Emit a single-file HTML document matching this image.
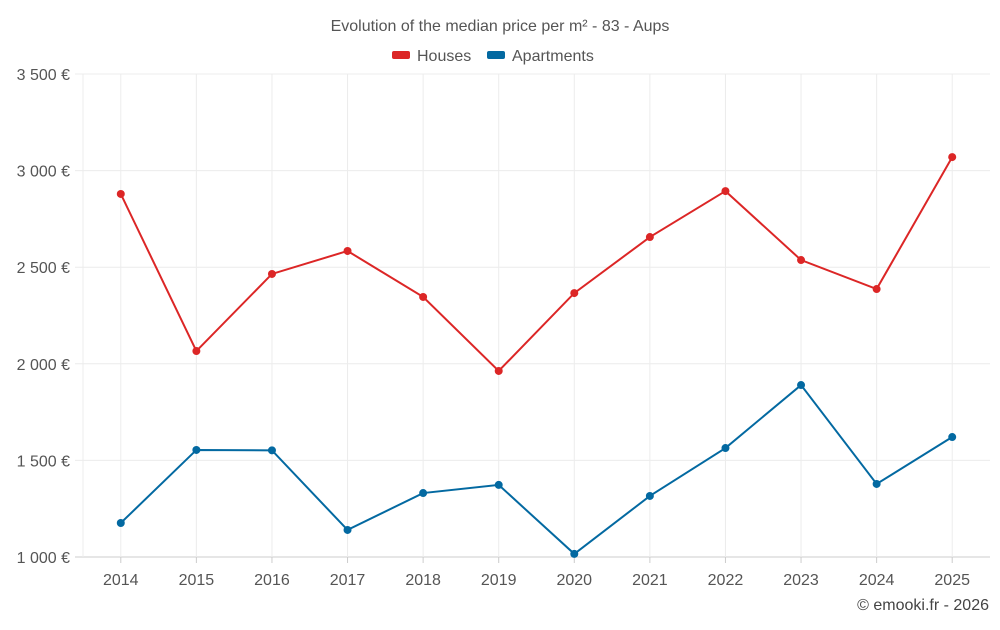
<!DOCTYPE html>
<html><head><meta charset="utf-8"><style>
body{margin:0;background:#fff;font-family:"Liberation Sans",sans-serif;}
svg text{font-family:"Liberation Sans",sans-serif;}
</style></head><body>
<svg id="chart" width="1000" height="625">
<text x="500" y="31" text-anchor="middle" font-size="16" fill="#555">Evolution of the median price per m² - 83 - Aups</text>
<g>
<g><rect x="392" y="51" width="18" height="8" rx="2" fill="#dc2626"/><text x="417" y="61" font-size="16" fill="#555">Houses</text></g>
<g><rect x="487" y="51" width="18" height="8" rx="2" fill="#0369a1"/><text x="512" y="61" font-size="16" fill="#555">Apartments</text></g>
</g>
<g id="grid"></g><g id="axes"></g><g id="series"></g>
<text x="989" y="610" text-anchor="end" font-size="16" fill="#444">© emooki.fr - 2026</text>
</svg>
<script>
const years=["2014","2015","2016","2017","2018","2019","2020","2021","2022","2023","2024","2025"];
const houses=[2879,2066,2465,2584,2346,1963,2366,2656,2894,2537,2387,3070];
const apartments=[1176,1554,1552,1140,1331,1373,1016,1316,1564,1890,1378,1621];
const yTicks=[1000,1500,2000,2500,3000,3500];
const yTickLabels=["1 000 €","1 500 €","2 000 €","2 500 €","3 000 €","3 500 €"];
const NS="http://www.w3.org/2000/svg";
const L=83,R=990,T=74,B=557;
const step=(R-L)/years.length;
const x=i=>L+step*(i+0.5);
const y=v=>B-(v-1000)/2500*(B-T);
function mk(tag,attrs,parent){const e=document.createElementNS(NS,tag);for(const k in attrs)e.setAttribute(k,attrs[k]);document.getElementById(parent).appendChild(e);return e;}
yTicks.forEach((t,i)=>{
  const g=mk('line',{x1:75,x2:R,y1:y(t),y2:y(t),stroke:i==0?'#ccc':'#ececec'},'grid');
  
  
  const tx=mk('text',{x:70,y:y(t)+6,'text-anchor':'end','font-size':16,fill:'#555'},'axes');
  tx.textContent=yTickLabels[i];
  
  
});
const lg=mk('line',{x1:L,x2:L,y1:T,y2:B,stroke:'#ececec'},'grid');


years.forEach((yr,i)=>{
  const g=mk('line',{x1:x(i),x2:x(i),y1:T,y2:B,stroke:'#ececec'},'grid');
  
  
  const tk=mk('line',{x1:x(i),x2:x(i),y1:B,y2:B+6,stroke:'#ccc'},'axes');
  
  
  const tx=mk('text',{x:x(i),y:585,'text-anchor':'middle','font-size':16,fill:'#555'},'axes');
  tx.textContent=yr;
  
  
});
function series(vals,color,name){
  const p=mk('polyline',{points:vals.map((v,i)=>x(i)+','+y(v)).join(' '),fill:'none',stroke:color,'stroke-width':2},'series');
  
  
  vals.forEach((v,i)=>{
    const c=mk('circle',{cx:x(i),cy:y(v),r:4,fill:color},'series');
    
    
  });
}
series(houses,'#dc2626','houses');
series(apartments,'#0369a1','apartments');
</script>
</body></html>
